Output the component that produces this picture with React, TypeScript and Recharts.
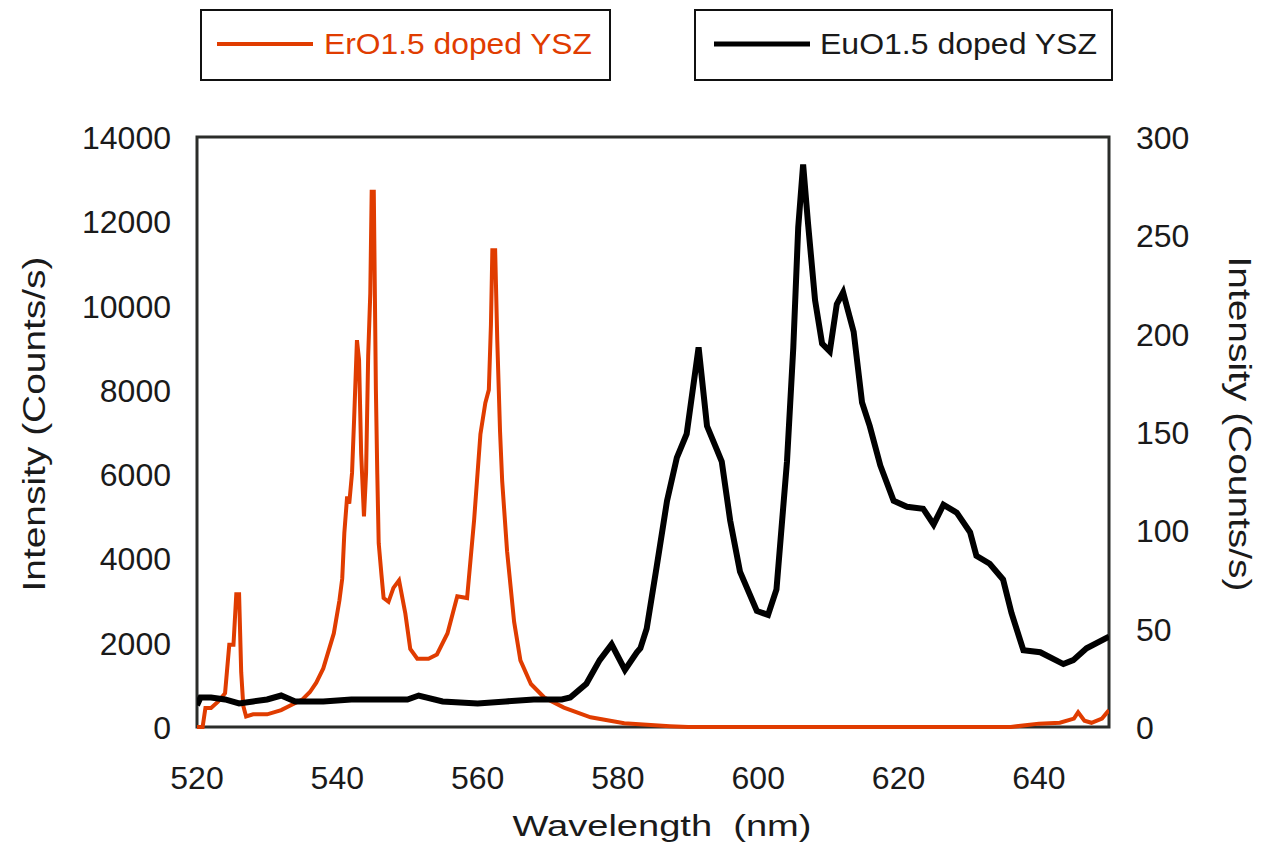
import { LineChart, Line, XAxis, YAxis, ReferenceArea } from 'recharts';

const FONT = '"Liberation Sans", Arial, sans-serif';
const RED = '#e03c00';
const INK = '#1a1a1a';

// ErO1.5 doped YSZ (left axis)
const erWavelength = [
  520, 520.8, 521.2, 522, 523, 524, 524.6, 525.2, 525.6, 526, 526.3, 526.6, 527, 528, 530, 532,
  533.3, 535, 536.1, 537, 538, 539.5, 540.3, 540.7, 541, 541.4, 541.7, 542.1, 542.4, 542.8, 543.1,
  543.4, 543.8, 544.1, 544.4, 544.7, 544.9, 545.2, 545.5, 545.7, 545.9, 546.3, 546.6, 547.3, 548,
  548.8, 549.7, 550.4, 551.4, 553, 554.2, 555.7, 557.1, 558.5, 559.5, 560.4, 561.1, 561.6, 561.9,
  562.1, 562.5, 562.8, 563.2, 563.5, 564.2, 565.2, 566.1, 567.6, 569.5, 572.3, 576.1, 580.9, 587.4,
  590, 636, 640, 643, 645, 645.6, 646.5, 647.5, 649, 650,
];
const erIntensity = [
  0, 0, 450, 450, 600, 800, 1950, 1950, 3150, 3150, 1300, 500, 250, 300, 300, 400,
  510, 650, 830, 1050, 1390, 2220, 3000, 3520, 4600, 5470, 5300, 6030, 7320, 9180, 8710,
  6490, 5000, 6030, 8800, 10290, 12700, 12700, 8000, 6000, 4360, 3600, 3060, 2970, 3300,
  3480, 2690, 1850, 1620, 1620, 1720, 2220, 3100, 3060, 4910, 6950, 7690, 8000, 9550,
  11310, 11310, 9180, 7000, 5840, 4170, 2500, 1580, 1020, 700, 460, 230, 90, 20,
  0, 0, 80, 100, 200, 350, 150, 100, 200, 400,
];

// EuO1.5 doped YSZ (right axis)
const euWavelength = [
  520, 520.5, 522, 524, 526, 528, 530, 532, 534, 538, 542, 546, 550, 551.6, 555, 560, 564, 568,
  572, 573.2, 575.5, 577.4, 579.1, 581, 582.7, 583.2, 584.1, 585.5, 587, 588.4, 589.8, 591.5,
  592.7, 594.1, 594.8, 596, 597.4, 599.8, 601.4, 602.6, 604.1, 605, 605.7, 606.4, 607.1, 608.1,
  609.1, 610.2, 611.2, 612.1, 613.6, 614.8, 615.9, 617.4, 619.3, 621.2, 623.5, 625, 626.4, 628.3,
  630.2, 631.1, 633, 634.9, 636.1, 637.8, 640.2, 643.5, 644.9, 646.8, 650,
];
const euIntensity = [
  11, 15, 15, 14, 12, 13, 14, 16, 13, 13, 14, 14, 14, 16, 13, 12, 13, 14,
  14, 15, 22, 34, 42, 29, 38, 40, 50, 81, 115, 137, 149, 193,
  153, 141, 135, 105, 79, 59, 57, 70, 135, 193, 254, 286, 256, 217,
  195, 191, 215, 221, 201, 165, 153, 133, 115, 112, 111, 103, 113, 109,
  99, 87, 83, 75, 58, 39, 38, 32, 34, 40, 46,
];

const leftTicks = [0, 2000, 4000, 6000, 8000, 10000, 12000, 14000];
const rightTicks = [0, 50, 100, 150, 200, 250, 300];
const xTicks = [520, 540, 560, 580, 600, 620, 640];

const erData = erWavelength.map((x, i) => ({ x, er: erIntensity[i] }));
const euData = euWavelength.map((x, i) => ({ x, eu: euIntensity[i] }));

const BottomTick = (props: any) => (
  <text x={props.x} y={props.y + 62} textAnchor="middle" fontSize={32} fontFamily={FONT} fill={INK}>
    {props.payload.value}
  </text>
);

const LeftTick = (props: any) => (
  <text x={props.x - 26} y={props.y + 12} textAnchor="end" fontSize={32} fontFamily={FONT} fill={INK}>
    {props.payload.value}
  </text>
);

const RightTick = (props: any) => (
  <text x={props.x + 27} y={props.y + 12} textAnchor="start" fontSize={32} fontFamily={FONT} fill={INK}>
    {props.payload.value}
  </text>
);

const Legend = () => (
  <svg width={1262} height={100} style={{ position: 'absolute', left: 0, top: 0 }}>
    <rect x={201} y={10} width={409} height={70} fill="#fff" stroke="#111" strokeWidth={2} />
    <line x1={217} x2={313} y1={44} y2={44} stroke={RED} strokeWidth={4} />
    <text x={324} y={54} fontSize={29} fontFamily={FONT} fill={RED} textLength={268} lengthAdjust="spacingAndGlyphs">
      ErO1.5 doped YSZ
    </text>
    <rect x={695} y={10} width={417} height={70} fill="#fff" stroke="#111" strokeWidth={2} />
    <line x1={714} x2={810} y1={44} y2={44} stroke="#000" strokeWidth={5} />
    <text x={820} y={54} fontSize={29} fontFamily={FONT} fill={INK} textLength={277} lengthAdjust="spacingAndGlyphs">
      EuO1.5 doped YSZ
    </text>
  </svg>
);

export default function App() {
  return (
    <div style={{ position: 'absolute', left: 0, top: 0, width: 1262, height: 853, background: '#fff' }}>
      <LineChart width={1262} height={853} margin={{ top: 137, right: 53, bottom: 0, left: 77 }}>
        <XAxis
          type="number"
          dataKey="x"
          domain={[520, 650]}
          ticks={xTicks}
          allowDataOverflow
          axisLine={false}
          tickLine={false}
          tickSize={0}
          tickMargin={0}
          height={126}
          tick={<BottomTick />}
          label={(p: any) => (
            <text
              x={662}
              y={836}
              textAnchor="middle"
              fontSize={29}
              fontFamily={FONT}
              fill={INK}
              textLength={299}
              lengthAdjust="spacingAndGlyphs"
              style={{ whiteSpace: 'pre' }}
            >
              {'Wavelength  (nm)'}
            </text>
          )}
        />
        <YAxis
          yAxisId="left"
          domain={[0, 14000]}
          ticks={leftTicks}
          width={120}
          axisLine={false}
          tickLine={false}
          tickSize={0}
          tickMargin={0}
          tick={<LeftTick />}
          label={(p: any) => (
            <text
              x={45}
              y={424}
              transform="rotate(-90 45 424)"
              textAnchor="middle"
              fontSize={32}
              fontFamily={FONT}
              fill={INK}
              textLength={335}
              lengthAdjust="spacingAndGlyphs"
            >
              Intensity (Counts/s)
            </text>
          )}
        />
        <YAxis
          yAxisId="right"
          orientation="right"
          domain={[0, 300]}
          ticks={rightTicks}
          width={100}
          axisLine={false}
          tickLine={false}
          tickSize={0}
          tickMargin={0}
          tick={<RightTick />}
          label={(p: any) => (
            <text
              x={1229}
              y={424}
              transform="rotate(90 1229 424)"
              textAnchor="middle"
              fontSize={32}
              fontFamily={FONT}
              fill={INK}
              textLength={335}
              lengthAdjust="spacingAndGlyphs"
            >
              Intensity (Counts/s)
            </text>
          )}
        />
        <Line
          yAxisId="left"
          data={erData}
          dataKey="er"
          type="linear"
          stroke={RED}
          strokeWidth={4}
          dot={false}
          isAnimationActive={false}
        />
        <Line
          yAxisId="right"
          data={euData}
          dataKey="eu"
          type="linear"
          stroke="#000"
          strokeWidth={6}
          dot={false}
          isAnimationActive={false}
        />
        <ReferenceArea
          yAxisId="left"
          x1={520}
          x2={650}
          y1={0}
          y2={14000}
          fill="none"
          stroke="#2b2d2a"
          strokeWidth={3}
          ifOverflow="visible"
        />
      </LineChart>
      <Legend />
    </div>
  );
}
